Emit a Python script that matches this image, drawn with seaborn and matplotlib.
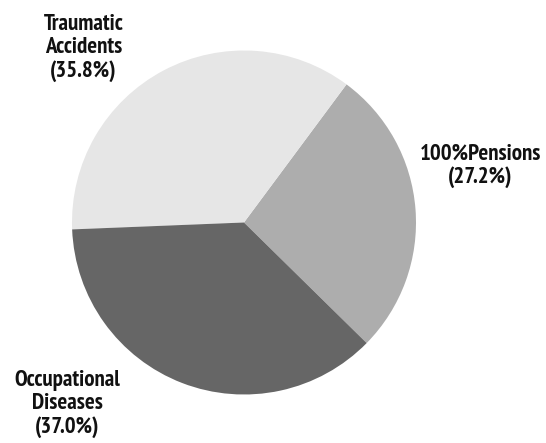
import matplotlib
matplotlib.use("Agg")
import matplotlib.pyplot as plt
import seaborn as sns

sns.set_theme(style="white")
plt.rcParams['font.family'] = ['PT Sans Narrow', 'DejaVu Sans']

categories = ["100%Pensions", "Traumatic\nAccidents", "Occupational\nDiseases"]
shares = [27.2, 35.8, 37.0]
colors = ["#adadad", "#e6e6e6", "#666666"]

W, H = 546, 443
cx, cy, R = 244, 222.5, 172

fig = plt.figure(figsize=(W / 100, H / 100), dpi=100)
ax = fig.add_axes([0, 0, 1, 1])
wedges, texts = ax.pie(shares, colors=colors, startangle=-44.5, counterclock=True,
                       labels=[f"{c}\n({v:.1f}%)" for c, v in zip(categories, shares)],
                       wedgeprops=dict(linewidth=0), radius=1.0,
                       textprops=dict(fontsize=16.5, fontweight="bold", color="#111111",
                                      ha="center", va="center", linespacing=1.1))
ax.set_xlim((0 - cx) / R, (W - cx) / R)
ax.set_ylim((cy - H) / R, cy / R)
ax.set_aspect("equal")
ax.axis("off")

label_px = [(480, 166), (83.5, 48), (67, 404)]
for t, (px, py) in zip(texts, label_px):
    t.set_position(((px - cx) / R, (cy - py) / R))
    t.set_ha("center")
    t.set_va("center")

fig.savefig("out.png", dpi=100, facecolor="white")
